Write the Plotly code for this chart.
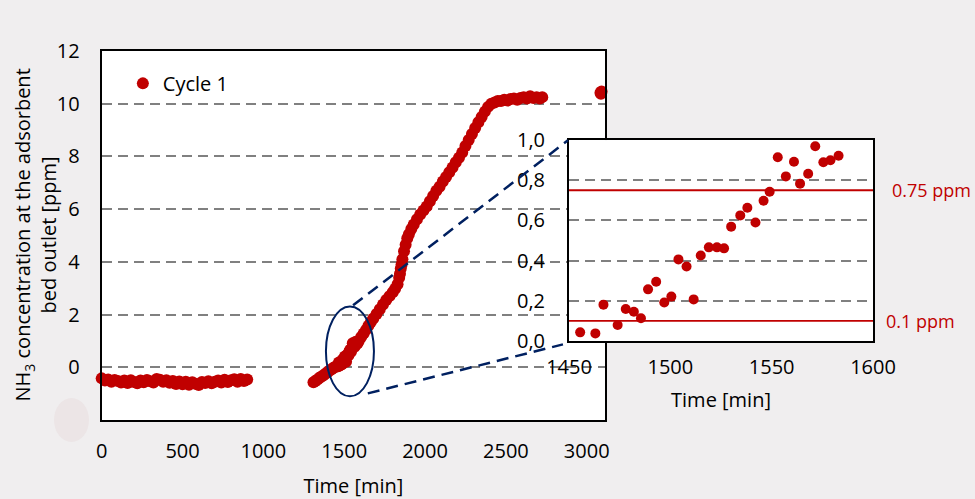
import plotly.graph_objects as go

# ---------------- data ----------------
series_name = "Cycle 1"

# first part of cycle 1 (low, slightly negative baseline)
t_part1 = [0, 20, 40, 60, 80, 100, 120, 140, 160, 180, 200, 220, 240, 260, 280, 300,
           320, 340, 360, 380, 400, 420, 440, 460, 480, 500, 520, 540, 560, 580, 600,
           620, 640, 660, 680, 700, 720, 740, 760, 780, 800, 820, 840, 860, 880, 900]
c_part1 = [-0.42, -0.50, -0.46, -0.55, -0.48, -0.52, -0.58, -0.50, -0.60, -0.49, -0.56,
           -0.61, -0.50, -0.57, -0.48, -0.53, -0.58, -0.44, -0.47, -0.55, -0.49, -0.59,
           -0.52, -0.63, -0.54, -0.64, -0.55, -0.66, -0.57, -0.62, -0.67, -0.56, -0.60,
           -0.53, -0.61, -0.55, -0.50, -0.58, -0.47, -0.56, -0.49, -0.45, -0.55, -0.44,
           -0.52, -0.46]

# breakthrough: start
t_rise = [1310, 1322, 1335, 1348, 1360, 1372, 1385, 1398, 1410, 1422, 1435, 1445]
c_rise = [-0.57, -0.52, -0.46, -0.40, -0.35, -0.30, -0.24, -0.18, -0.12, -0.07, -0.02, 0.02]

# breakthrough: zoomed window (inset)
t_zoom = [1455.5, 1463, 1467, 1474, 1478, 1482, 1485.5, 1489, 1493, 1497, 1500.5, 1504,
          1508, 1511.5, 1515, 1519, 1523, 1526.5, 1530, 1534.5, 1538, 1542, 1546, 1549,
          1553, 1557, 1561, 1564, 1568, 1571.5, 1575.5, 1579, 1583]
c_zoom = [0.043, 0.038, 0.181, 0.080, 0.159, 0.146, 0.113, 0.257, 0.295, 0.192, 0.221,
          0.406, 0.371, 0.207, 0.425, 0.466, 0.466, 0.461, 0.569, 0.625, 0.663, 0.590,
          0.698, 0.743, 0.914, 0.819, 0.892, 0.783, 0.832, 0.969, 0.889, 0.899, 0.922]

# breakthrough: rest of the curve and plateau
t_high = [1590, 1605, 1620, 1635, 1650, 1665, 1680, 1700, 1720, 1740, 1760, 1780, 1800,
          1815, 1830, 1840, 1845, 1850, 1855, 1860, 1870, 1880, 1890, 1900, 1915, 1930,
          1950, 1970, 1990, 2010, 2030, 2050, 2070, 2090, 2110, 2130, 2150, 2170, 2190,
          2210, 2230, 2250, 2270, 2290, 2310, 2330, 2350, 2370, 2390, 2410, 2430, 2450,
          2470, 2490, 2510, 2530, 2550, 2570, 2590, 2610, 2630, 2650, 2670, 2690, 2710,
          2725]
c_high = [1.00, 1.15, 1.28, 1.42, 1.58, 1.72, 1.85, 2.02, 2.20, 2.38, 2.55, 2.70, 2.85,
          2.98, 3.15, 3.40, 3.55, 3.75, 3.90, 4.10, 4.40, 4.65, 4.90, 5.05, 5.25, 5.42,
          5.62, 5.80, 5.95, 6.10, 6.30, 6.50, 6.70, 6.85, 7.05, 7.22, 7.40, 7.58, 7.78,
          7.95, 8.15, 8.40, 8.62, 8.85, 9.08, 9.30, 9.50, 9.70, 9.88, 10.00, 10.05, 10.10,
          10.10, 10.15, 10.12, 10.18, 10.20, 10.15, 10.22, 10.25, 10.20, 10.28, 10.22,
          10.25, 10.20, 10.25]

# last measurements
t_end = [3085, 3088, 3092]
c_end = [10.42, 10.38, 10.46]

# thresholds shown in the inset
threshold_values = [0.75, 0.1]
threshold_labels = ["0.75 ppm", "0.1 ppm"]

# axis ticks
main_x_ticks = [0, 500, 1000, 1500, 2000, 2500, 3000]
main_y_ticks = [0, 2, 4, 6, 8, 10, 12]
inset_x_ticks = [1450, 1500, 1550, 1600]
inset_y_ticks = [0.0, 0.2, 0.4, 0.6, 0.8, 1.0]
inset_y_ticktext = ["0,0", "0,2", "0,4", "0,6", "0,8", "1,0"]

# ---------------- styling ----------------
RED = "#C00000"
NAVY = "#002060"
GRID = "#808080"
BG = "#F0EEEF"
FONT = "Open Sans"
FS = 20

t_all = t_part1 + t_rise + t_zoom + t_high + t_end
c_all = c_part1 + c_rise + c_zoom + c_high + c_end

fig = go.Figure()

fig.add_trace(go.Scatter(
    x=t_all, y=c_all, mode="markers", name=series_name,
    marker=dict(color=RED, size=12, line=dict(width=0)),
    cliponaxis=False, xaxis="x", yaxis="y", showlegend=True,
))

# inset threshold lines
for v in threshold_values:
    fig.add_trace(go.Scatter(
        x=[inset_x_ticks[0], inset_x_ticks[-1]], y=[v, v], mode="lines",
        line=dict(color=RED, width=1.8), xaxis="x2", yaxis="y2",
        showlegend=False, hoverinfo="skip",
    ))

# inset data
fig.add_trace(go.Scatter(
    x=t_zoom, y=c_zoom, mode="markers", name=series_name,
    marker=dict(color=RED, size=10, line=dict(width=0)),
    xaxis="x2", yaxis="y2", showlegend=False, cliponaxis=False,
))

axis_line = dict(showline=True, mirror=True, linecolor="black", linewidth=2,
                 ticks="", zeroline=False, automargin=False)

fig.update_layout(
    width=975, height=499,
    margin=dict(l=0, r=0, t=0, b=0),
    paper_bgcolor=BG, plot_bgcolor="white",
    font=dict(family=FONT, size=FS, color="black"),
    showlegend=True,
    legend=dict(x=0.126, y=0.872, xanchor="left", yanchor="top",
                bgcolor="rgba(0,0,0,0)", font=dict(size=FS), itemwidth=30),
    xaxis=dict(domain=[0.1043, 0.6205], range=[0, 3113], tickvals=main_x_ticks,
               showgrid=False, ticklabelstandoff=12,
               title=dict(text="Time [min]", standoff=18, font=dict(size=FS)),
               **axis_line),
    yaxis=dict(domain=[0.1583, 0.8978], range=[-2, 12], tickvals=main_y_ticks,
               showgrid=True, gridcolor=GRID, gridwidth=2, griddash="10px,6px",
               ticklabelstandoff=16, **axis_line),
    xaxis2=dict(domain=[0.5836, 0.8954], range=[1450, 1600], tickvals=inset_x_ticks,
                anchor="y2", showgrid=False, ticklabelstandoff=7,
                title=dict(text="Time [min]", standoff=14, font=dict(size=FS)),
                **axis_line),
    yaxis2=dict(domain=[0.3166, 0.7194], range=[0, 1], tickvals=inset_y_ticks,
                ticktext=inset_y_ticktext, anchor="x2",
                showgrid=True, gridcolor=GRID, gridwidth=2, griddash="10px,6px",
                ticklabelstandoff=18, **axis_line),
)

# y-axis title (two lines, rotated)
fig.add_annotation(
    x=36 / 975, y=(0.1583 + 0.8978) / 2, xref="paper", yref="paper",
    text="NH<sub>3</sub> concentration at the adsorbent<br>bed outlet [ppm]",
    textangle=-90, showarrow=False, xanchor="center", yanchor="middle",
    font=dict(size=FS, family=FONT, color="black"),
)

# threshold labels
for v, lab, dx in zip(threshold_values, threshold_labels, [17, 11]):
    fig.add_annotation(x=1.0, xref="x2 domain", xanchor="left", xshift=dx,
                       y=v, yref="y2", text=lab, showarrow=False,
                       font=dict(color=RED, size=18, family=FONT))

# zoom indicator: ellipse + connector lines
fig.add_shape(type="circle", xref="x", yref="y", x0=1387, x1=1684, y0=-1.10, y1=2.31,
              line=dict(color=NAVY, width=2), fillcolor="rgba(0,0,0,0)", layer="above")
fig.add_shape(type="line", xref="x", yref="y", x0=1555, y0=2.35, x1=2884, y1=8.61,
              line=dict(color=NAVY, width=2.5, dash="12px,7px"), layer="above")
fig.add_shape(type="line", xref="x", yref="y", x0=1646, y0=-0.99, x1=2853, y1=0.87,
              line=dict(color=NAVY, width=2.5, dash="12px,7px"), layer="above")

# faint blotch over the lowest y label
fig.add_shape(type="circle", xref="paper", yref="paper",
              x0=54 / 975, x1=89 / 975, y0=1 - 442 / 499, y1=1 - 398 / 499,
              line=dict(width=0), fillcolor="#ECE5E6", layer="above")

fig.write_html("out.html", config={"displayModeBar": False},
               post_script="document.body.style.margin='0px';document.body.style.overflow='hidden';")
